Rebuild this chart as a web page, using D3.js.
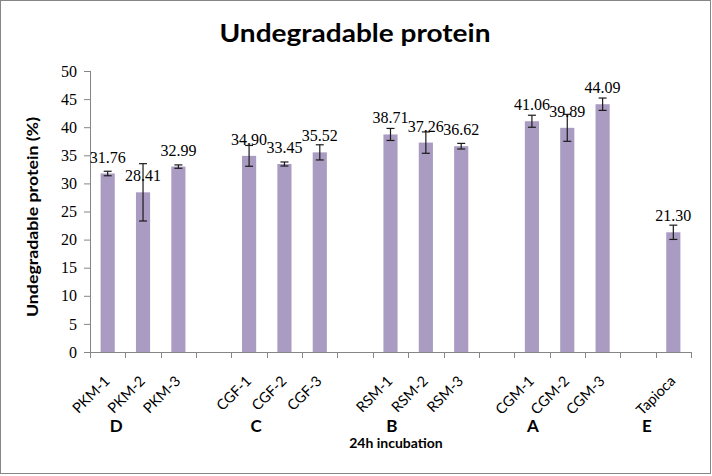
<!DOCTYPE html>
<html><head><meta charset="utf-8">
<script src="https://cdn.jsdelivr.net/npm/d3@7"></script>
<style>
html,body{margin:0;padding:0;background:#fff;}
svg{display:block;}
</style></head>
<body><svg id="chart" width="712" height="476"></svg>
<script>
const categories = ["PKM-1","PKM-2","PKM-3","","CGF-1","CGF-2","CGF-3","","RSM-1","RSM-2","RSM-3","","CGM-1","CGM-2","CGM-3","","Tapioca"];
const values = [31.76,28.41,32.99,null,34.90,33.45,35.52,null,38.71,37.26,36.62,null,41.06,39.89,44.09,null,21.30];
const errors = [0.4,5.1,0.3,null,1.85,0.36,1.35,null,1.07,1.9,0.5,null,1.07,2.4,1.1,null,1.27];
const groupLetters = ["D","C","B","A","E"];
const yTicks = [0,5,10,15,20,25,30,35,40,45,50];
const titleText = "Undegradable protein";
const yTitle = "Undegradable protein (%)";
const xTitle = "24h incubation";

(function(){
const svg = d3.select("#chart");
const W = 712, H = 476;
const pLeft = 90, pRight = 691, pTop = 71, pBottom = 352;

svg.append("rect").attr("x",0.5).attr("y",0.5).attr("width",W-2).attr("height",H-3)
  .attr("fill","#fff").attr("stroke","#868686").attr("stroke-width",1);

const x = d3.scaleBand().domain(d3.range(categories.length)).range([pLeft,pRight]).paddingInner(0.6).paddingOuter(0.3);
const y = d3.scaleLinear().domain([0,50]).range([pBottom,pTop]);
const step = x.step();
const center = i => x(i) + x.bandwidth()/2;

svg.append("text").attr("x",355).attr("y",42).attr("text-anchor","middle")
  .attr("font-family","Lato, 'Open Sans', sans-serif").attr("font-weight","bold").attr("font-size",25)
  .attr("textLength",271).attr("lengthAdjust","spacingAndGlyphs")
  .attr("fill","#000").text(titleText);

const yAxis = d3.axisLeft(y).tickValues(yTicks).tickSize(6).tickPadding(7).tickFormat(d3.format("d"));
const gy = svg.append("g").attr("transform",`translate(${pLeft},0)`).call(yAxis);
gy.select(".domain").attr("stroke","#868686").attr("d",`M0.5,${pTop}V${pBottom}`);
gy.selectAll(".tick line").attr("stroke","#868686");
gy.selectAll(".tick text").attr("font-family","'Liberation Serif', serif").attr("font-size",16).attr("fill","#000");

svg.append("line").attr("x1",pLeft).attr("x2",pRight).attr("y1",pBottom+0.5).attr("y2",pBottom+0.5).attr("stroke","#868686");
const bounds = d3.range(categories.length+1).map(i => (i < categories.length ? center(i) - step/2 : center(i-1) + step/2));
svg.append("g").selectAll("line").data(bounds).join("line")
  .attr("x1",d=>Math.round(d)+0.5).attr("x2",d=>Math.round(d)+0.5).attr("y1",pBottom).attr("y2",pBottom+6).attr("stroke","#868686");

const idx = d3.range(categories.length).filter(i => values[i] !== null);

svg.append("g").selectAll("rect").data(idx).join("rect")
  .attr("x",i=>x(i)).attr("width",x.bandwidth())
  .attr("y",i=>y(values[i])).attr("height",i=>y(0)-y(values[i]))
  .attr("fill","#a99bc1");

const eg = svg.append("g").attr("stroke","#1a1a1a").attr("stroke-width",1.2);
idx.forEach(i => {
  const cx = center(i), hi = y(values[i]+errors[i]), lo = y(values[i]-errors[i]);
  eg.append("line").attr("x1",cx).attr("x2",cx).attr("y1",hi).attr("y2",lo);
  eg.append("line").attr("x1",cx-4).attr("x2",cx+4).attr("y1",hi).attr("y2",hi);
  eg.append("line").attr("x1",cx-4).attr("x2",cx+4).attr("y1",lo).attr("y2",lo);
});

svg.append("g").selectAll("text").data(idx).join("text")
  .attr("x",i=>center(i)).attr("y",i=>y(values[i])-11).attr("text-anchor","middle")
  .attr("font-family","'Liberation Serif', serif").attr("font-size",16).attr("fill","#000")
  .text(i=>values[i].toFixed(2));

svg.append("g").selectAll("text").data(idx).join("text")
  .attr("transform",i=>`translate(${center(i)+3},${pBottom+30}) rotate(-45)`)
  .attr("text-anchor","end")
  .attr("font-family","Lato, sans-serif").attr("font-size",14.5).attr("fill","#000")
  .text(i=>categories[i]);

const letterSlots = [0.74, 4.7, 8.54, 12.53, 15.75];
const slotX = d3.scaleLinear().domain([0,categories.length]).range([pLeft,pRight]);
svg.append("g").selectAll("text").data(groupLetters).join("text")
  .attr("x",(d,k)=>slotX(letterSlots[k])).attr("y",432).attr("text-anchor","middle")
  .attr("font-family","Lato, sans-serif").attr("font-weight","bold").attr("font-size",17).attr("fill","#000")
  .text(d=>d);

svg.append("text").attr("x",396).attr("y",448).attr("text-anchor","middle")
  .attr("font-family","Lato, sans-serif").attr("font-weight","bold").attr("font-size",14).attr("fill","#000")
  .text(xTitle);

svg.append("text").attr("transform","translate(38,217) rotate(-90)").attr("text-anchor","middle")
  .attr("font-family","Lato, sans-serif").attr("font-weight","bold").attr("font-size",15)
  .attr("textLength",200).attr("lengthAdjust","spacingAndGlyphs").attr("fill","#000")
  .text(yTitle);
})();
</script></body></html>
